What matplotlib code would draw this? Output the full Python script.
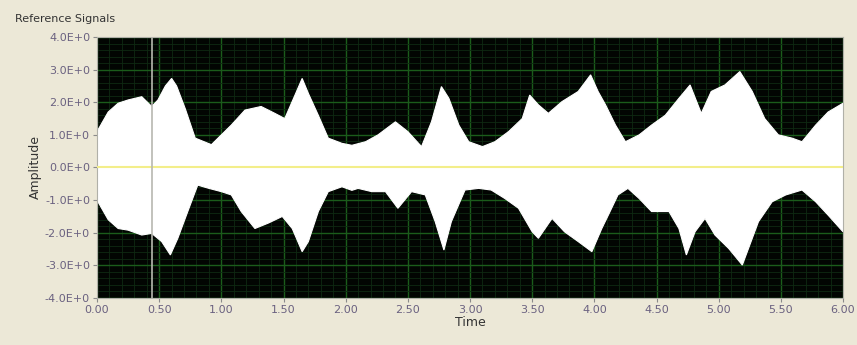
import numpy as np
import matplotlib
matplotlib.use("Agg")
import matplotlib.pyplot as plt
from matplotlib.ticker import MultipleLocator, FuncFormatter

# upper envelope
upper_t = [0.00, 0.09, 0.17, 0.25, 0.36, 0.44, 0.49, 0.55, 0.60, 0.64, 0.71, 0.79, 0.92,
           1.00, 1.08, 1.19, 1.32, 1.43, 1.51, 1.59, 1.65, 1.70, 1.78, 1.86, 1.97,
           2.05, 2.16, 2.26, 2.40, 2.50, 2.61, 2.69, 2.77, 2.83, 2.91, 2.99, 3.10, 3.20,
           3.31, 3.42, 3.48, 3.55, 3.63, 3.74, 3.87, 3.97, 4.03, 4.09, 4.17, 4.25, 4.36,
           4.46, 4.57, 4.68, 4.77, 4.86, 4.94, 5.05, 5.17, 5.27, 5.37, 5.48, 5.59, 5.67,
           5.78, 5.88, 6.00]
upper_amp = [1.10, 1.70, 1.97, 2.07, 2.17, 1.87, 2.07, 2.50, 2.73, 2.50, 1.80, 0.90, 0.70,
             1.00, 1.30, 1.76, 1.87, 1.66, 1.50, 2.20, 2.73, 2.27, 1.60, 0.90, 0.74,
             0.68, 0.79, 1.00, 1.40, 1.10, 0.64, 1.40, 2.48, 2.12, 1.30, 0.79, 0.64, 0.79,
             1.10, 1.50, 2.22, 1.92, 1.66, 2.02, 2.33, 2.84, 2.33, 1.92, 1.30, 0.79, 1.00,
             1.30, 1.60, 2.12, 2.53, 1.66, 2.33, 2.53, 2.94, 2.33, 1.50, 1.00, 0.90, 0.79,
             1.30, 1.70, 1.97]

# lower envelope
lower_t = [0.00, 0.09, 0.17, 0.25, 0.36, 0.44, 0.52, 0.59, 0.65, 0.73, 0.81, 0.90,
           1.00, 1.08, 1.16, 1.27, 1.38, 1.49, 1.57, 1.65, 1.70, 1.78, 1.86, 1.97,
           2.05, 2.10, 2.21, 2.32, 2.42, 2.53, 2.64, 2.72, 2.79, 2.85, 2.96, 3.07, 3.17,
           3.28, 3.39, 3.50, 3.55, 3.66, 3.76, 3.87, 3.98, 4.06, 4.12, 4.19, 4.27,
           4.36, 4.46, 4.60, 4.68, 4.74, 4.81, 4.89, 4.97, 5.08, 5.19, 5.24, 5.32,
           5.43, 5.54, 5.67, 5.78, 5.88, 6.00]
lower_amp = [-1.00, -1.60, -1.87, -1.92, -2.07, -2.02, -2.27, -2.68, -2.17, -1.35, -0.54, -0.64,
             -0.74, -0.84, -1.35, -1.87, -1.70, -1.50, -1.87, -2.58, -2.27, -1.35, -0.74, -0.59,
             -0.70, -0.64, -0.74, -0.74, -1.25, -0.74, -0.84, -1.66, -2.53, -1.66, -0.69, -0.64, -0.69,
             -0.95, -1.25, -1.97, -2.17, -1.56, -1.97, -2.27, -2.58, -1.87, -1.40, -0.84, -0.64,
             -0.95, -1.35, -1.35, -1.87, -2.68, -1.97, -1.56, -2.07, -2.48, -2.99, -2.48, -1.66,
             -1.05, -0.84, -0.69, -1.05, -1.46, -1.97]

cursor_t = 0.44

panel = "#ece8d7"
tick_col = "#6a6180"

fig = plt.figure(figsize=(8.57, 3.45), dpi=100, facecolor=panel)
ax = fig.add_axes([0.1132, 0.1362, 0.8705, 0.7566])
ax.set_facecolor("#020502")

# white band between the two envelopes
poly_t = np.concatenate([upper_t, lower_t[::-1]])
poly_a = np.concatenate([upper_amp, lower_amp[::-1]])
ax.fill(poly_t, poly_a, color="white", lw=0.8, ec="white", zorder=2)

# zero line and cursor
ax.axhline(0, color="#f3ee8a", lw=1.5, zorder=3)
ax.axvline(cursor_t, color="#b8b8b0", lw=1.2, zorder=3)

ax.set_xlim(0, 6)
ax.set_ylim(-4, 4)
ax.xaxis.set_major_locator(MultipleLocator(0.5))
ax.xaxis.set_minor_locator(MultipleLocator(0.1))
ax.yaxis.set_major_locator(MultipleLocator(1.0))
ax.yaxis.set_minor_locator(MultipleLocator(0.2))
ax.grid(which="major", color="#1b5c1b", lw=1.0, zorder=1)
ax.grid(which="minor", color="#0f2a12", lw=0.6, zorder=1)
ax.set_axisbelow(True)

ax.xaxis.set_major_formatter(FuncFormatter(lambda v, p: "%.2f" % v))
ax.yaxis.set_major_formatter(FuncFormatter(lambda v, p: "%.1fE+0" % v))
ax.tick_params(which="major", length=3, color="#8a8a8a", labelsize=8, labelcolor=tick_col, pad=2)
ax.tick_params(which="minor", length=0)
for s in ax.spines.values():
    s.set_color("#b0b0a8")

ax.set_xlabel("Time", fontsize=9, color="#333333", labelpad=1)
ax.set_ylabel("Amplitude", fontsize=9, color="#333333", labelpad=2)
fig.text(0.017, 0.945, "Reference Signals", fontsize=8, color="#333333", va="center")

fig.savefig("out.png", dpi=100, facecolor=panel)
